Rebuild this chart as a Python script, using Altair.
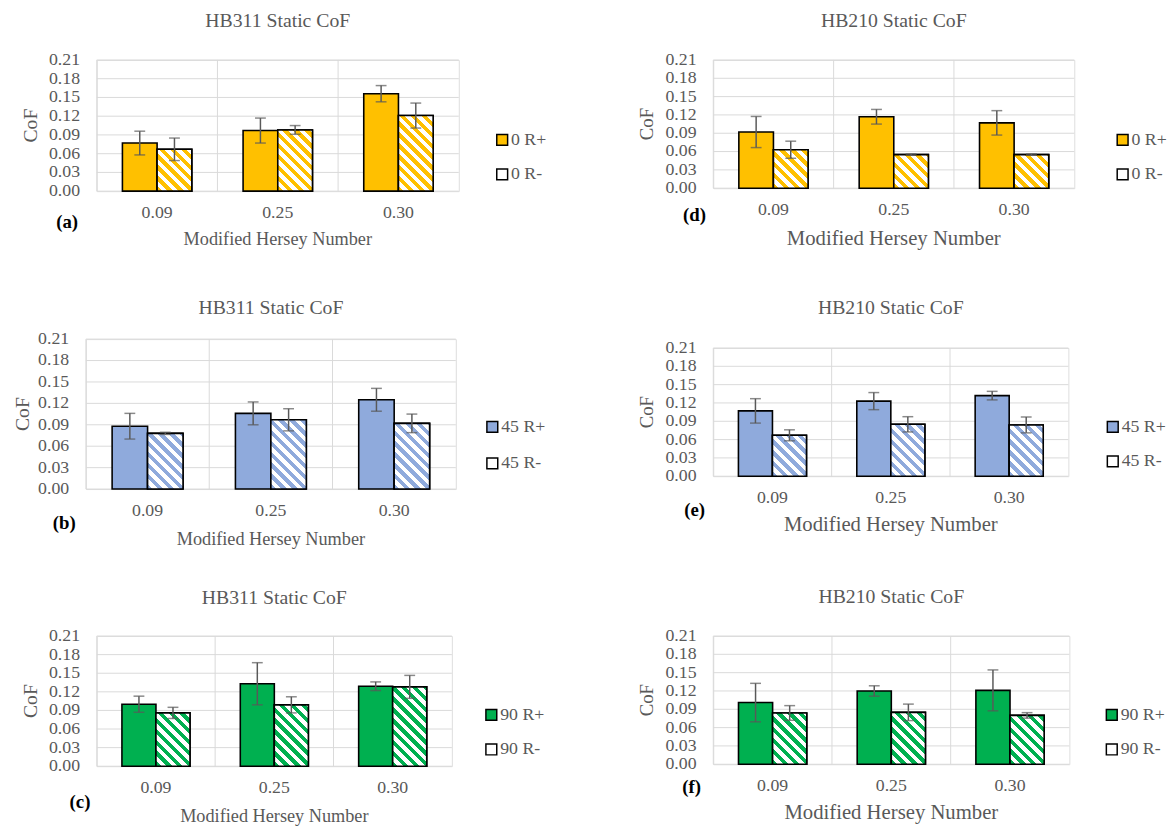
import math
import altair as alt
import pandas as pd

FONT = "Liberation Serif"
GRAY = "#595959"
GRID = "#D9D9D9"

categories = ["0.09", "0.25", "0.30"]

# (a) HB311, 0 deg
a_rplus = [0.077, 0.097, 0.156]
a_rplus_err = [0.019, 0.020, 0.013]
a_rminus = [0.067, 0.098, 0.121]
a_rminus_err = [0.018, 0.007, 0.020]
# (b) HB311, 45 deg
b_rplus = [0.088, 0.106, 0.125]
b_rplus_err = [0.018, 0.016, 0.016]
b_rminus = [0.078, 0.097, 0.092]
b_rminus_err = [0.0015, 0.0155, 0.013]
# (c) HB311, 90 deg
c_rplus = [0.100, 0.133, 0.129]
c_rplus_err = [0.013, 0.034, 0.007]
c_rminus = [0.086, 0.099, 0.128]
c_rminus_err = [0.009, 0.013, 0.0185]
# (d) HB210, 0 deg
d_rplus = [0.092, 0.117, 0.107]
d_rplus_err = [0.0255, 0.012, 0.020]
d_rminus = [0.063, 0.055, 0.055]
d_rminus_err = [0.014, 0.001, 0.001]
# (e) HB210, 45 deg
e_rplus = [0.107, 0.123, 0.132]
e_rplus_err = [0.020, 0.014, 0.007]
e_rminus = [0.067, 0.085, 0.084]
e_rminus_err = [0.009, 0.0125, 0.013]
# (f) HB210, 90 deg
f_rplus = [0.101, 0.120, 0.121]
f_rplus_err = [0.0315, 0.0085, 0.0335]
f_rminus = [0.084, 0.085, 0.080]
f_rminus_err = [0.012, 0.0135, 0.0045]

y_ticks = [0.0, 0.03, 0.06, 0.09, 0.12, 0.15, 0.18, 0.21]
YMAX = 0.21
PO = 0.739  # outer padding of the offset scale -> bar width ~ 29% of a category step


def hatch(color, w, h, period=7.8, duty=0.5):
    """Diagonal '\\' stripes as a linear gradient in bounding-box units."""
    s = (w + h) / (w * w + h * h)
    x2 = s * w
    y2 = 1 - s * h
    d = period * math.sqrt(2) / (w + h)
    stops = []
    t = 0.0
    while t < 1:
        b = min(t + d * duty, 1.0)
        c = min(t + d, 1.0)
        stops.append({"offset": round(t, 5), "color": color})
        stops.append({"offset": round(b, 5), "color": color})
        if b < 1:
            stops.append({"offset": round(b, 5), "color": "#FFFFFF"})
            stops.append({"offset": round(c, 5), "color": "#FFFFFF"})
        t += d
    return {"gradient": "linear", "x1": 0, "y1": 1, "x2": round(x2, 5),
            "y2": round(y2, 5), "stops": stops}


def text_at(txt, x, y, size, color=GRAY, weight="normal", angle=0, align="center"):
    return alt.Chart(pd.DataFrame({"t": [txt]})).mark_text(
        font=FONT, fontSize=size, fontWeight=weight, color=color, angle=angle,
        align=align, baseline="middle"
    ).encode(text="t:N", x=alt.value(x), y=alt.value(y))


def panel(title, angle, rp, rpe, rm, rme, color, W, H, tag, tag_x, tag_y,
          leg_x, leg_y, leg_gap, xtitle_y, xtitle_size, ytitle_x, ytitle_size,
          title_y=-39):
    names = [f"{angle} R+", f"{angle} R-"]
    df = pd.DataFrame({
        "cat": categories * 2,
        "series": [names[0]] * 3 + [names[1]] * 3,
        "v": rp + rm,
        "e": rpe + rme,
    })
    base = alt.Chart(df)
    xscale = alt.Scale(domain=categories, paddingInner=0, paddingOuter=0)
    yscale = alt.Scale(domain=[0, YMAX], nice=False, zero=True)
    xoff = alt.XOffset("series:N", sort=names,
                       scale=alt.Scale(domain=names, paddingInner=0, paddingOuter=PO))
    X = alt.X("cat:N", sort=categories, scale=xscale, axis=None)

    ydf = alt.Chart(pd.DataFrame({"t": y_ticks}))
    grid = ydf.mark_rule(color=GRID, strokeWidth=1).encode(
        y=alt.Y("t:Q", scale=yscale, axis=None))
    ylabels = ydf.mark_text(font=FONT, fontSize=18, color=GRAY, align="right",
                            baseline="middle").encode(
        x=alt.value(-17), y=alt.Y("t:Q", scale=yscale, axis=None),
        text=alt.Text("t:Q", format=".2f"))

    xdf = alt.Chart(pd.DataFrame({"cat": categories}))
    seps = xdf.mark_rule(color=GRID, strokeWidth=1).encode(
        x=alt.X("cat:N", sort=categories, scale=xscale, bandPosition=0, axis=None))
    xlabels = xdf.mark_text(font=FONT, fontSize=18, color=GRAY, baseline="middle").encode(
        x=X, y=alt.value(H + 22), text="cat:N")

    bars = base.mark_bar(stroke="black", strokeWidth=1.6).encode(
        x=X,
        xOffset=xoff,
        y=alt.Y("v:Q", scale=yscale, axis=None),
        fill=alt.Fill("series:N", sort=names,
                      scale=alt.Scale(domain=names, range=[color, "#FFFFFF"]),
                      legend=alt.Legend(title=None, orient="none", legendX=leg_x,
                                        legendY=leg_y - 9, symbolType="square",
                                        symbolSize=121, symbolStrokeColor="black",
                                        symbolStrokeWidth=1.5, labelFont=FONT,
                                        labelFontSize=18, labelColor=GRAY,
                                        labelOffset=0, rowPadding=leg_gap - 18,
                                        padding=0)),
    )

    step = W / 3.0
    bw = step / (2 + 2 * PO)
    conds = []
    for c, v in zip(categories, rm):
        h = v / YMAX * H
        conds.append({"test": f"datum.cat == '{c}'", "value": hatch(color, bw, h)})

    hatched = base.transform_filter(alt.datum.series == names[1]).mark_bar(
        stroke="black", strokeWidth=1.6
    ).encode(
        x=X,
        xOffset=xoff,
        y=alt.Y("v:Q", scale=yscale, axis=None),
        fill=alt.value("#FFFFFF", condition=conds),
    )

    err = base.transform_calculate(lo="datum.v - datum.e", hi="datum.v + datum.e")
    err_line = err.mark_rule(color=GRAY, strokeWidth=1.5).encode(
        x=X, xOffset=xoff,
        y=alt.Y("lo:Q", scale=yscale, axis=None),
        y2="hi:Q",
    )
    cap_lo = err.mark_tick(color=GRAY, thickness=1.5, size=11, orient="horizontal").encode(
        x=X, xOffset=xoff, y=alt.Y("lo:Q", scale=yscale, axis=None))
    cap_hi = err.mark_tick(color=GRAY, thickness=1.5, size=11, orient="horizontal").encode(
        x=X, xOffset=xoff, y=alt.Y("hi:Q", scale=yscale, axis=None))

    texts = [
        text_at(title, W / 2, title_y, 20),
        text_at("Modified Hersey Number", W / 2, H + xtitle_y, xtitle_size),
        text_at("CoF", ytitle_x, H / 2, ytitle_size, angle=270),
        text_at(tag, tag_x, tag_y, 19, color="black", weight="bold"),
    ]

    return alt.layer(grid, seps, bars, hatched, err_line, cap_lo, cap_hi,
                     ylabels, xlabels, *texts).properties(width=W, height=H)


GOLD = "#FFC000"
BLUE = "#8FAADC"
GREEN = "#00B050"

pa = panel("HB311 Static CoF", 0, a_rplus, a_rplus_err, a_rminus, a_rminus_err, GOLD,
           367, 133, "(a)", -30, 164, 402, 81, 35, 49, 18.5, -67, 20)
pb = panel("HB311 Static CoF", 45, b_rplus, b_rplus_err, b_rminus, b_rminus_err, BLUE,
           375, 152, "(b)", -22, 186, 403, 89, 37, 51, 18.5, -64, 20, title_y=-31)
pc = panel("HB311 Static CoF", 90, c_rplus, c_rplus_err, c_rminus, c_rminus_err, GREEN,
           360, 132, "(c)", -17, 168, 391, 80, 35, 51, 18.5, -67, 20, title_y=-38)
pd_ = panel("HB210 Static CoF", 0, d_rplus, d_rplus_err, d_rminus, d_rminus_err, GOLD,
            366, 130, "(d)", -19, 157, 406, 81, 35, 52, 21, -67, 19)
pe = panel("HB210 Static CoF", 45, e_rplus, e_rplus_err, e_rminus, e_rminus_err, BLUE,
           360, 130, "(e)", -19, 164, 396, 80, 35, 50, 21, -67, 19, title_y=-40)
pf = panel("HB210 Static CoF", 90, f_rplus, f_rplus_err, f_rminus, f_rminus_err, GREEN,
           361, 130, "(f)", -22, 153, 395, 80, 35, 50, 21, -67, 19)


def spacer(w, h):
    return alt.Chart(pd.DataFrame({"z": [0]})).mark_point(opacity=0).encode(
        x=alt.value(0), y=alt.value(0)
    ).properties(width=w, height=h, view=alt.ViewBackground(stroke="transparent"))


def indep(c):
    return c.resolve_scale(fill="independent", xOffset="independent",
                           x="independent", y="independent")


# nested concat groups count as zero-size inside a flush layout, so the vertical
# spacers give the row positions directly
col_left = indep(alt.vconcat(
    indep(alt.hconcat(spacer(11, 1), pa, spacing=0, bounds="flush")),
    spacer(1, 283),
    pb,
    spacer(1, 149),
    indep(alt.hconcat(spacer(11, 1), pc, spacing=0, bounds="flush")),
    spacing=0, bounds="flush",
))
col_right = indep(alt.vconcat(pd_, pe, pf, spacing=162, bounds="flush"))

chart = indep(alt.hconcat(col_left, col_right, spacing=636, bounds="flush")).properties(
    padding={"left": 4, "top": -3, "right": 0, "bottom": 0},
    background="white",
).configure_view(stroke=GRID, strokeWidth=1).configure(font=FONT)

chart.save("out.html", embed_options={"renderer": "svg", "actions": False})
